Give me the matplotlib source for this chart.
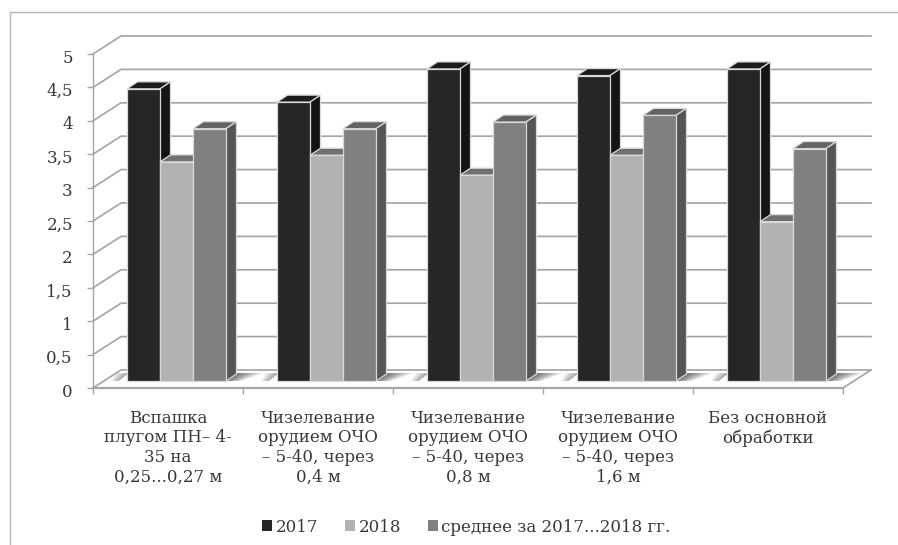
import numpy as np
import matplotlib
matplotlib.use('Agg')
import matplotlib.pyplot as plt
from matplotlib.patches import Polygon, Patch
from matplotlib.lines import Line2D
from matplotlib.transforms import ScaledTranslation

plt.rcParams['font.family'] = ['DejaVu Serif']

categories = ['Вспашка\nплугом ПН– 4-\n35 на\n0,25...0,27 м',
              'Чизелевание\nорудием ОЧО\n– 5-40, через\n0,4 м',
              'Чизелевание\nорудием ОЧО\n– 5-40, через\n0,8 м',
              'Чизелевание\nорудием ОЧО\n– 5-40, через\n1,6 м',
              'Без основной\nобработки']
series_names = ['2017', '2018', 'среднее за 2017...2018 гг.']
v2017 = [4.4, 4.2, 4.7, 4.6, 4.7]
v2018 = [3.3, 3.4, 3.1, 3.4, 2.4]
vmean = [3.8, 3.8, 3.9, 4.0, 3.5]
yticks = [0, 0.5, 1, 1.5, 2, 2.5, 3, 3.5, 4, 4.5, 5]
ylabels = ['0', '0,5', '1', '1,5', '2', '2,5', '3', '3,5', '4', '4,5', '5']

W, H = 898, 545
GRID = '#a6a6a6'
TEXT = '#383838'

# colours per series: front, top, side
faces = ['#262626', '#b2b2b2', '#7f807f']
tops = ['#1c1c1c', '#707070', '#636363']
sides = ['#141414', '#777777', '#555555']

# one category is 150 px wide, one value unit 66.8 px high
ux = 1 / 150
uy = 1 / 66.8
wall_dx, wall_dy = 28 * ux, 18 * uy
bar_dx, bar_dy = 10.5 * ux, 7 * uy
bar_w = 33 * ux
bar_left = 34 * ux
bar_base = 7 * uy
bar_scale = 0.994  # bars stand a little deeper than the front plane

fig = plt.figure(figsize=(W / 100, H / 100), dpi=100)
ax = fig.add_axes([93 / W, 1 - 388 / H, 750 / W, 334 / H])
ax.patch.set_visible(False)

# chart frame, only the top and left edges
fig.add_artist(Line2D([10 / W, 10 / W, 1], [0, 1 - 12 / H, 1 - 12 / H],
                      color='#b4b4b4', lw=1.0))

# back wall grid lines, running through the depth on the left
for v in yticks:
    ax.plot([0, wall_dx, len(categories) + wall_dx], [v, v + wall_dy, v + wall_dy],
            color=GRID, lw=1.25, zorder=1, clip_on=False, solid_joinstyle='miter')
ax.plot([len(categories), len(categories) + wall_dx], [0, wall_dy],
        color=GRID, lw=1.25, zorder=1, clip_on=False)


# soft floor shadow: thin slices fading away from x0
def floor_shadow(x0, length, strength, direction=1):
    y0, y1 = bar_base, bar_base + bar_dy + 1 * uy
    n = 24
    for i in range(n):
        a = i / n
        b = (i + 1) / n
        alpha = strength * (1 - a)
        pts = [[x0 + direction * a * length * 0.55, y0],
               [x0 + bar_dx + direction * a * length, y1],
               [x0 + bar_dx + direction * b * length, y1],
               [x0 + direction * b * length * 0.55, y0]]
        ax.add_patch(Polygon(pts, facecolor='#303030', edgecolor='none', alpha=alpha,
                             zorder=1.5, clip_on=False))


for g in range(len(categories)):
    floor_shadow(g + bar_left + 3 * bar_w, 28 * ux, 0.85)
    floor_shadow(g + bar_left - bar_dx + 2 * ux, 14 * ux, 0.5, direction=-1)

# bars, left to right so each one overlaps the side of the previous
z = 2
for g in range(len(categories)):
    for s, vals in enumerate([v2017, v2018, vmean]):
        x0 = g + bar_left + s * bar_w
        x1 = x0 + bar_w
        y0 = bar_base
        y1 = bar_base + vals[g] * bar_scale
        ax.bar(x0, y1 - y0, width=bar_w, bottom=y0, align='edge', color=faces[s],
               edgecolor='#d8d8d8', linewidth=0.9, zorder=z + 2)
        ax.add_patch(Polygon([[x0, y1], [x1, y1], [x1 + bar_dx, y1 + bar_dy], [x0 + bar_dx, y1 + bar_dy]],
                             facecolor=tops[s], edgecolor='#d8d8d8', linewidth=0.9,
                             zorder=z, clip_on=False))
        ax.add_patch(Polygon([[x1, y0], [x1 + bar_dx, y0 + bar_dy], [x1 + bar_dx, y1 + bar_dy], [x1, y1]],
                             facecolor=sides[s], edgecolor='#d8d8d8', linewidth=0.9,
                             zorder=z + 1, clip_on=False))
        z += 3

ax.set_xlim(0, len(categories))
ax.set_ylim(0, 5)

for name in ['top', 'right']:
    ax.spines[name].set_visible(False)
for name in ['left', 'bottom']:
    ax.spines[name].set_color(GRID)
    ax.spines[name].set_zorder(z + 5)
ax.spines['left'].set_linewidth(1.0)
ax.spines['bottom'].set_linewidth(1.6)

ax.set_yticks(yticks)
ax.set_yticklabels(ylabels, fontsize=12, color=TEXT)
ax.tick_params(axis='y', length=4.5, width=1, color=GRID, pad=10)
shift = ScaledTranslation(0, -1.5 / 72, fig.dpi_scale_trans)
for lab in ax.get_yticklabels():
    lab.set_transform(lab.get_transform() + shift)

ax.set_xticks(range(len(categories) + 1))
ax.set_xticklabels([])
ax.tick_params(axis='x', which='major', length=4.5, width=1, color=GRID)
ax.set_xticks(np.arange(len(categories)) + 0.5, minor=True)
ax.set_xticklabels(categories, minor=True, fontsize=12, color=TEXT, linespacing=1.22)
ax.tick_params(axis='x', which='minor', length=0, pad=15.5)

handles = [Patch(facecolor=c, edgecolor='none') for c in faces]
fig.legend(handles, series_names, loc='center', bbox_to_anchor=(466.5 / W, 1 - 527 / H),
           ncol=3, frameon=False, fontsize=12, labelcolor=TEXT,
           handlelength=0.58, handleheight=0.58, handletextpad=0.2,
           columnspacing=1.65, borderpad=0)

fig.savefig('out.png', dpi=100)
